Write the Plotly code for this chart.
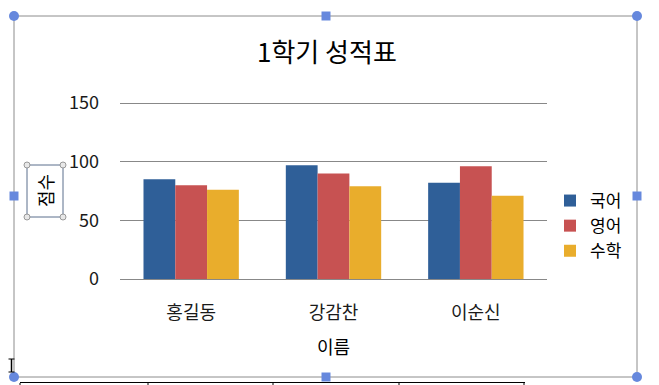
import plotly.graph_objects as go

names = ["홍길동", "강감찬", "이순신"]
korean = [85, 97, 82]
english = [80, 90, 96]
math = [76, 79, 71]
series_names = ["국어", "영어", "수학"]
colors = ["#2F5F98", "#C75252", "#E9AD2C"]
y_ticks = [0, 50, 100, 150]

OFF = 8  # page body margin
W, H = 659 - OFF, 385 - OFF
SL, SR, ST, SB = 120, 547, 103, 279
L, R, T, B = SL - OFF, SR - OFF, ST - OFF, SB - OFF

def px(x):
    return (x - SL) / (SR - SL)

def py(y):
    return (SB - y) / (SB - ST)

FONT = "Noto Sans CJK KR"

fig = go.Figure()
for nm, vals, c in zip(series_names, [korean, english, math], colors):
    fig.add_trace(go.Bar(x=names, y=vals, name=nm, marker=dict(color=c, line=dict(width=0))))

shapes = []
frame = "#8C8C8C"
handle = "#6688DD"
# top gridline (at the range edge), nudged half a pixel for a crisp line
shapes.append(dict(type="line", xref="paper", yref="y", ysizemode="pixel", yanchor=y_ticks[-1],
                   x0=0, x1=1, y0=-0.5, y1=-0.5, line=dict(color="#888888", width=1)))
shapes.append(dict(type="rect", xref="paper", yref="paper", x0=px(14), x1=px(637), y0=py(377), y1=py(16),
                   line=dict(color=frame, width=1), layer="above"))
shapes.append(dict(type="line", xref="paper", yref="paper", x0=px(20), x1=px(525), y0=py(382.5), y1=py(382.5),
                   line=dict(color="black", width=1)))
for vx in [20, 148, 273, 399, 524]:
    shapes.append(dict(type="line", xref="paper", yref="paper", x0=px(vx), x1=px(vx), y0=py(383), y1=py(390),
                       line=dict(color="black", width=1)))
for cx, cy in [(14, 16), (637, 16), (14, 377), (637, 377)]:
    shapes.append(dict(type="circle", xref="paper", yref="paper", x0=px(cx - 5), x1=px(cx + 5),
                       y0=py(cy + 5), y1=py(cy - 5), fillcolor=handle, line=dict(color=handle, width=0)))
for cx, cy in [(326, 16), (326, 377), (14, 196), (637, 196)]:
    shapes.append(dict(type="rect", xref="paper", yref="paper", x0=px(cx - 4.5), x1=px(cx + 4.5),
                       y0=py(cy + 4.5), y1=py(cy - 4.5), fillcolor=handle, line=dict(color=handle, width=0)))
shapes.append(dict(type="rect", xref="paper", yref="paper", x0=px(27), x1=px(63), y0=py(217), y1=py(165),
                   line=dict(color="#5A6E8C", width=1)))
for cx, cy in [(27, 165), (63, 165), (27, 217), (63, 217)]:
    shapes.append(dict(type="circle", xref="paper", yref="paper", x0=px(cx - 3), x1=px(cx + 3),
                       y0=py(cy + 3), y1=py(cy - 3), fillcolor="#E8E8E8", line=dict(color="#999999", width=1)))
shapes.append(dict(type="line", xref="paper", yref="paper", x0=px(11.5), x1=px(11.5), y0=py(372), y1=py(359),
                   line=dict(color="black", width=1.5)))
for yy in [359, 372]:
    shapes.append(dict(type="line", xref="paper", yref="paper", x0=px(8.5), x1=px(14.5), y0=py(yy), y1=py(yy),
                       line=dict(color="black", width=1)))

annotations = [
    dict(text="1학기 성적표", xref="paper", yref="paper", x=px(327), y=py(50), showarrow=False,
         font=dict(family=FONT, size=26, color="#000000"), xanchor="center", yanchor="middle"),
    dict(text="이름", xref="paper", yref="paper", x=px(333), y=py(346), showarrow=False,
         font=dict(family=FONT, size=18, color="#000000"), xanchor="center", yanchor="middle"),
    dict(text="점수", xref="paper", yref="paper", x=px(45), y=py(191), showarrow=False, textangle=-90,
         font=dict(family=FONT, size=18, color="#000000"), xanchor="center", yanchor="middle"),
]

fig.update_layout(
    width=W, height=H,
    margin=dict(l=L, r=W - R, t=T, b=H - B),
    paper_bgcolor="white", plot_bgcolor="white",
    barmode="group", bargap=0.33, bargroupgap=0,
    font=dict(family=FONT, size=18, color="#1a1a1a"),
    showlegend=True,
    legend=dict(x=px(550), y=py(183), xanchor="left", yanchor="top", font=dict(family=FONT, size=17, color="#000000"),
                tracegroupgap=0, itemwidth=30, bgcolor="rgba(0,0,0,0)"),
    xaxis=dict(showgrid=False, showline=True, linecolor="#888888", linewidth=1, ticks="",
               ticklabelstandoff=17, tickfont=dict(family=FONT, size=18, color="#1a1a1a")),
    yaxis=dict(range=[0, 150], tickvals=y_ticks, showgrid=True, gridcolor="#888888", gridwidth=1,
               zeroline=False, showline=False, ticklabelstandoff=20,
               tickfont=dict(family=FONT, size=18, color="#1a1a1a")),
    shapes=shapes,
    annotations=annotations,
)

fig.write_html("out.html")
